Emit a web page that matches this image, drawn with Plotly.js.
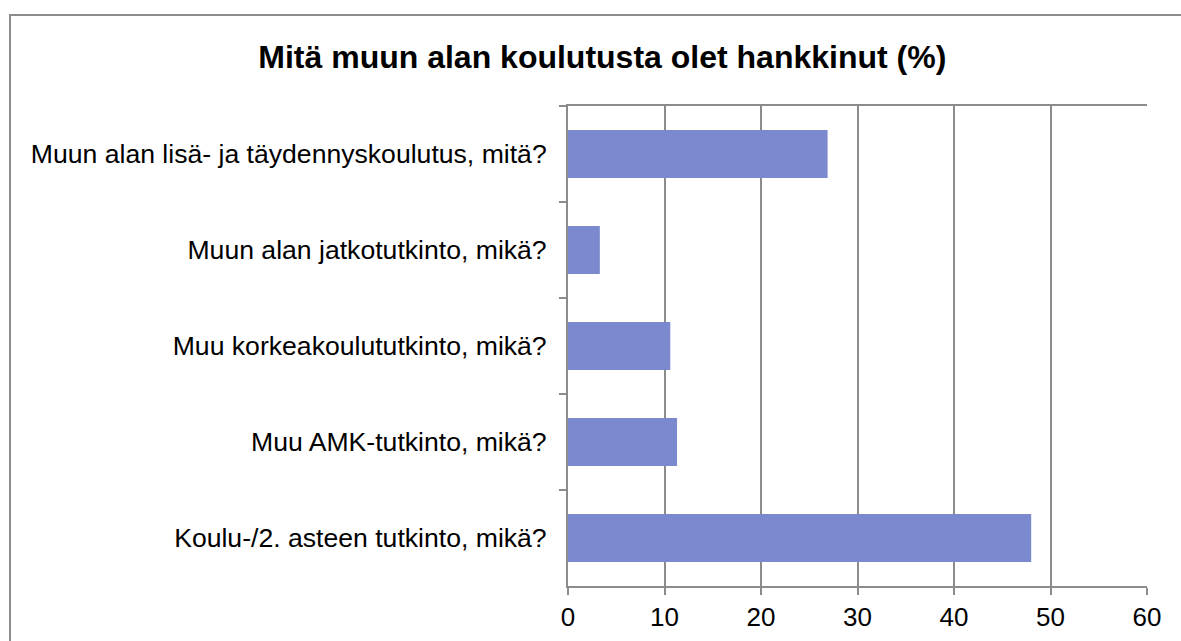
<!DOCTYPE html>
<html>
<head>
<meta charset="utf-8">
<script src="https://cdn.plot.ly/plotly-3.0.1.min.js"></script>
<style>
  html, body { margin: 0; padding: 0; background: #ffffff; overflow: hidden; }
  #chart { width: 1181px; height: 641px; }
  #frame { position: absolute; left: 9px; top: 14px; width: 1300px; height: 800px;
           border-top: 2px solid #8c8c8c; border-left: 2px solid #8c8c8c; pointer-events: none; }
</style>
</head>
<body>
<div id="chart"></div>
<div id="frame"></div>
<script>
const categories = [
  "Muun alan lisä- ja täydennyskoulutus, mitä?",
  "Muun alan jatkotutkinto, mikä?",
  "Muu korkeakoulututkinto, mikä?",
  "Muu AMK-tutkinto, mikä?",
  "Koulu-/2. asteen tutkinto, mikä?"
];
const values = [26.9, 3.3, 10.6, 11.3, 48.0];
const xTicks = [0, 10, 20, 30, 40, 50, 60];
const chartTitle = "Mitä muun alan koulutusta olet hankkinut (%)";

const FONT = '"Liberation Sans", Arial, sans-serif';
const GRID = '#8c8c8c';

const trace = {
  type: 'bar',
  orientation: 'h',
  y: categories,
  x: values,
  marker: { color: '#7B89CE', line: { width: 0 } },
  width: 0.5,
  hoverinfo: 'x+y'
};

const layout = {
  width: 1181,
  height: 641,
  paper_bgcolor: 'rgba(0,0,0,0)',
  plot_bgcolor: '#ffffff',
  margin: { l: 568, r: 34, t: 106, b: 55, pad: 0 },
  showlegend: false,
  title: {
    text: '<b>' + chartTitle + '</b>',
    font: { family: FONT, size: 32, color: '#000000' },
    x: 0.51, xref: 'container', xanchor: 'center',
    y: 1 - 57 / 641, yref: 'container', yanchor: 'middle'
  },
  xaxis: {
    range: [0, 60],
    tickvals: xTicks,
    ticktext: xTicks.map(String),
    showgrid: true,
    gridcolor: GRID,
    gridwidth: 2,
    zeroline: false,
    showline: true,
    linecolor: GRID,
    linewidth: 2,
    mirror: true,
    ticks: 'outside',
    ticklen: 7,
    tickwidth: 2,
    tickcolor: GRID,
    tickfont: { family: FONT, size: 26, color: '#000000' },
    fixedrange: true
  },
  yaxis: {
    type: 'category',
    autorange: 'reversed',
    showgrid: false,
    zeroline: false,
    showline: true,
    linecolor: GRID,
    linewidth: 2,
    ticks: 'outside',
    tickson: 'boundaries',
    ticklen: 7,
    tickwidth: 2,
    tickcolor: GRID,
    ticklabelstandoff: 14,
    tickfont: { family: FONT, size: 26.6, color: '#000000' },
    fixedrange: true
  },
  bargap: 0.5
};

Plotly.newPlot('chart', [trace], layout, { displayModeBar: false, staticPlot: true });
</script>
</body>
</html>
